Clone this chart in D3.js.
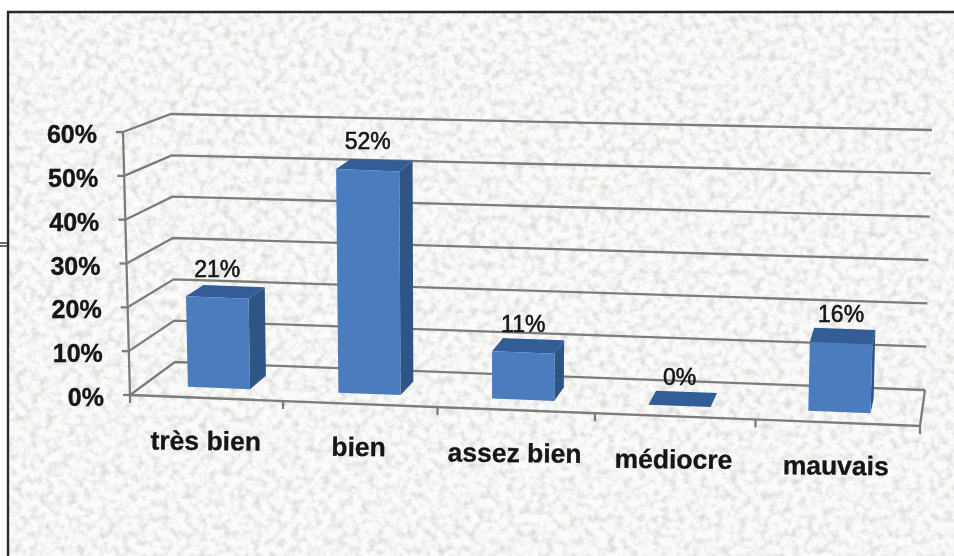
<!DOCTYPE html>
<html><head><meta charset="utf-8">
<style>html,body{margin:0;padding:0;background:#fff;overflow:hidden}svg{display:block}text{font-family:"Liberation Sans",Arial,sans-serif;fill:#141414}</style>
<script src="https://cdn.jsdelivr.net/npm/d3@7"></script>
</head><body>
<svg id="c" width="954" height="556"></svg>
<script>
const categories = ["très bien","bien","assez bien","médiocre","mauvais"];
const values = [21,52,11,0,16];
const valueLabels = ["21%","52%","11%","0%","16%"];
const yTicks = [0,10,20,30,40,50,60];

const W=954,H=556;
const svg=d3.select("#c");
const defs=svg.append("defs");
// paper texture
const tex=defs.append("filter").attr("id","paper").attr("x",0).attr("y",0).attr("width","100%").attr("height","100%");
tex.append("feTurbulence").attr("type","fractalNoise").attr("baseFrequency","0.13").attr("numOctaves",3).attr("seed",7);
tex.append("feColorMatrix").attr("type","matrix").attr("values","0 0 0 0 0.72  0 0 0 0 0.72  0 0 0 0 0.70  2.4 0 0 0 -1.0");
tex.append("feGaussianBlur").attr("stdDeviation",0.7);
tex.append("feComposite").attr("in2","SourceGraphic").attr("operator","over");
defs.append("filter").attr("id","soft").append("feGaussianBlur").attr("stdDeviation",0.55);
defs.append("filter").attr("id","softT").append("feGaussianBlur").attr("stdDeviation",0.35);

// category position along the floor (0..1) with the chart's slight perspective
const u=d3.scaleLinear().domain([0,0.5,1.5,2.5,3.5,4.5,5]).range([0,.097,.2905,.488,.689,.8945,1]);
const lerp=(a,b,t)=>a+(b-a)*t;
const v=d3.scaleLinear().domain([0,60]).range([0,1]);
function P(x,d,val){
  const fx=lerp(lerp(130,920,x),lerp(175,925,x),d);
  const fy=lerp(lerp(395,426,x),lerp(362,390,x),d);
  const rx=lerp(lerp(-7,8,x),lerp(-4,7,x),d);
  const ry=lerp(lerp(-263,-256,x),lerp(-248,-260,x),d);
  const t=v(val);
  return [fx+rx*t,fy+ry*t];
}
const line=d3.line();

// background
svg.append("rect").attr("x",8).attr("y",12).attr("width",W-8).attr("height",H-12).attr("fill","#fafaf8").attr("filter","url(#paper)");
// frame
const frame=svg.append("g").attr("fill","none").attr("stroke","#2b2b2b").attr("filter","url(#softT)");
frame.append("path").attr("d",line([[8,556],[8,12],[954,12]])).attr("stroke-width",2.4);
frame.append("path").attr("d",line([[0,243],[8,243]])).attr("stroke-width",1.4);
frame.append("path").attr("d",line([[0,246],[8,246]])).attr("stroke-width",1.4);

const g=svg.append("g").attr("filter","url(#soft)");
const grid=g.append("g").attr("fill","none").attr("stroke","#7c7c7c").attr("stroke-width",2.3);
// walls: gridlines, axis, ticks
grid.selectAll(".gl").data(yTicks).join("path").attr("d",t=>line([P(0,0,t),P(0,1,t),P(1,1,t)]));
grid.append("path").attr("d",line([P(0,0,0),P(0,0,60)]));
grid.selectAll(".yt").data(yTicks).join("path").attr("d",t=>{const p=P(0,0,t);return line([[p[0]-7,p[1]],p]);});
grid.append("path").attr("d",line([P(0,0,0),P(1,0,0),P(1,1,0)]));
grid.selectAll(".xt").data(d3.range(0,6)).join("path").attr("d",i=>{const p=P(u(i),0,0);return line([p,[p[0],p[1]+8]]);});

// bars
const halfW=0.04,dFront=0.3,dBack=0.7;
const bars=g.selectAll(".bar").data(values).join("g").attr("class","bar");
const poly=(sel,fn,c)=>sel.append("path").attr("fill",c).attr("d",(d,i)=>line(fn(d,u(i+0.5)))+"Z");
poly(bars,(d,c)=>[P(c+halfW,dFront,0),P(c+halfW,dBack,0),P(c+halfW,dBack,d),P(c+halfW,dFront,d)],"#2d5586");
poly(bars,(d,c)=>[P(c-halfW,dFront,d),P(c+halfW,dFront,d),P(c+halfW,dBack,d),P(c-halfW,dBack,d)],"#305d97");
poly(bars,(d,c)=>[P(c-halfW,dFront,0),P(c+halfW,dFront,0),P(c+halfW,dFront,d),P(c-halfW,dFront,d)],"#4c7dbe");

// text
const tg=svg.append("g").attr("filter","url(#softT)");
tg.selectAll(".yl").data(yTicks).join("text")
  .attr("x",t=>P(0,0,t)[0]-26).attr("y",t=>P(0,0,t)[1]+11)
  .attr("text-anchor","end").attr("font-size",25).attr("font-weight","bold").attr("stroke","#141414").attr("stroke-width",0.4)
  .text(t=>t+"%");
tg.selectAll(".xl").data(categories).join("text")
  .attr("transform",(d,i)=>{const p=P(u(i+0.5),0,0);return `translate(${p[0]-1},${p[1]+52}) rotate(0.6)`;})
  .attr("text-anchor","middle").attr("font-size",26.5).attr("font-weight","bold").attr("stroke","#141414").attr("stroke-width",0.3)
  .text(d=>d);
tg.selectAll(".dl").data(values).join("text")
  .attr("x",(d,i)=>P(u(i+0.5),dFront,d)[0]).attr("y",(d,i)=>P(u(i+0.5),dFront,d)[1]-21)
  .attr("text-anchor","middle").attr("font-size",23).attr("stroke","#141414").attr("stroke-width",0.55)
  .text((d,i)=>valueLabels[i]);
</script>
</body></html>
